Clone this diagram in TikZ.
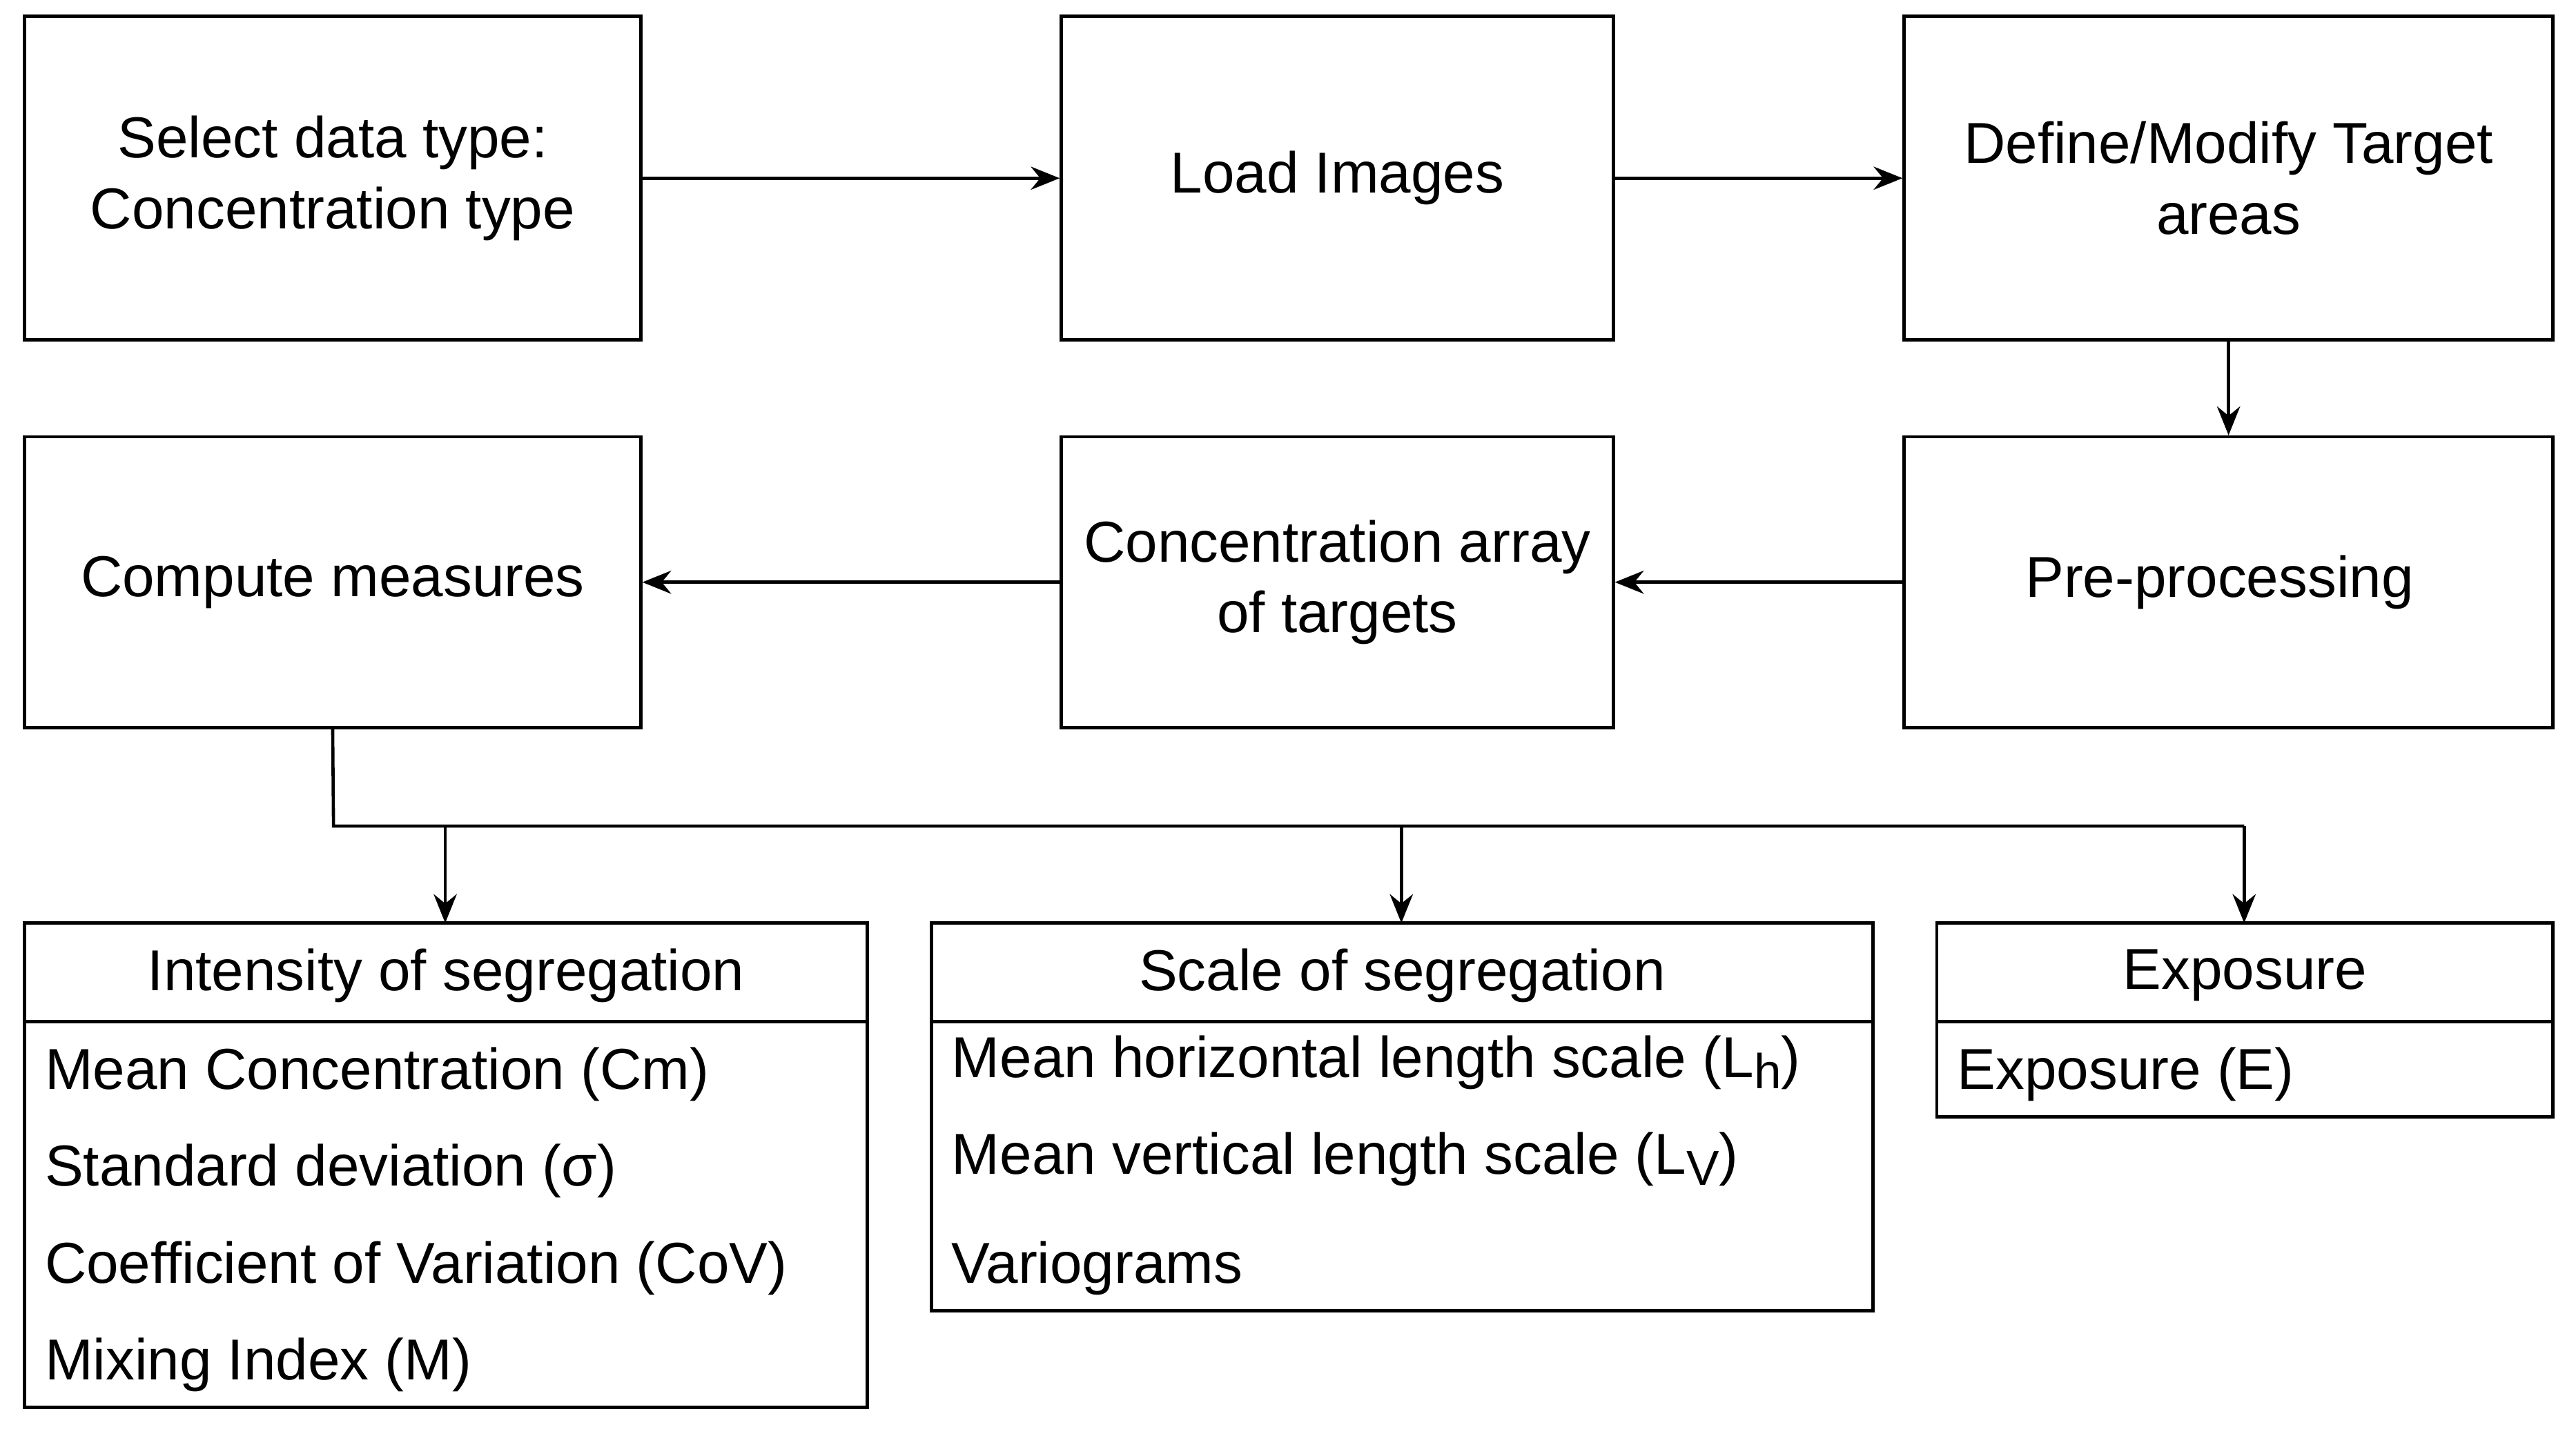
\documentclass[tikz,border=0pt]{standalone}
\usepackage{fontspec}
\setmainfont{Liberation Sans}
\usetikzlibrary{arrows.meta}
\newcommand{\mysub}[1]{\raisebox{-0.35ex}{\fontsize{17}{20}\selectfont #1}}
\begin{document}
\begin{tikzpicture}[x=0.02cm,y=-0.02cm,
 box/.style={draw,line width=1.1pt,inner sep=0pt},
 txt/.style={align=center,font=\fontsize{20}{24.5}\selectfont},
 item/.style={anchor=west,font=\fontsize{20}{24}\selectfont,inner sep=0pt},
 arr/.style={line width=1.1pt,-{Stealth[length=10pt,width=8pt]}}]
\useasboundingbox (0,0) rectangle (1568,874);
\node[box,minimum width=375*0.02cm,minimum height=197*0.02cm] (A) at (202.5,108.5) {};
\node[txt] at (A) {Select data type:\\Concentration type};
\node[box,minimum width=336*0.02cm,minimum height=197*0.02cm] (B) at (814,108.5) {};
\node[txt] at (B) {Load Images};
\node[box,minimum width=395*0.02cm,minimum height=197*0.02cm] (C) at (1356.5,108.5) {};
\node[txt] at (C) {Define/Modify Target\\areas};
\node[box,minimum width=375*0.02cm,minimum height=177*0.02cm] (D) at (202.5,354.5) {};
\node[txt] at (D) {Compute measures};
\node[box,minimum width=336*0.02cm,minimum height=177*0.02cm] (E) at (814,354.5) {};
\node[txt] at (E) {Concentration array\\of targets};
\node[box,minimum width=395*0.02cm,minimum height=177*0.02cm] (F) at (1356.5,354.5) {};
\node[txt] at (1351,354.5) {Pre-processing};
% lists
\node[box,minimum width=513*0.02cm,minimum height=295*0.02cm] (G) at (271.5,709.5) {};
\draw[line width=1.1pt] (15,622) -- (528,622);
\node[txt] at (271.5,594) {Intensity of segregation};
\node[item] at (27,654) {Mean Concentration (Cm)};
\node[item] at (27,713) {Standard deviation (σ)};
\node[item] at (27,772) {Coefficient of Variation (CoV)};
\node[item] at (27,831) {Mixing Index (M)};
\node[box,minimum width=573*0.02cm,minimum height=236*0.02cm] (H) at (853.5,680) {};
\draw[line width=1.1pt] (567,622) -- (1140,622);
\node[txt] at (853.5,594) {Scale of segregation};
\node[item] at (579,647) {Mean horizontal length scale (L\mysub{h})};
\node[item] at (579,706) {Mean vertical length scale (L\mysub{V})};
\node[item] at (579,772) {Variograms};
\node[box,minimum width=375*0.02cm,minimum height=118*0.02cm] (I) at (1366.5,621) {};
\draw[line width=1.1pt] (1179,622) -- (1554,622);
\node[txt] at (1366.5,594) {Exposure};
\node[item] at (1191,654) {Exposure (E)};
% arrows
\draw[arr] (A.east) -- (B.west);
\draw[arr] (B.east) -- (C.west);
\draw[arr] (C.south) -- (F.north);
\draw[arr] (F.west) -- (E.east);
\draw[arr] (E.west) -- (D.east);
\coordinate (j) at (203,503);
\draw[line width=1.1pt] (D.south) -- (j) -- (1366,503);
\draw[arr] (271,503) -- (271,562);
\draw[arr] (853,503) -- (853,562);
\draw[arr] (1366,503) -- (1366,562);
\end{tikzpicture}
\end{document}
